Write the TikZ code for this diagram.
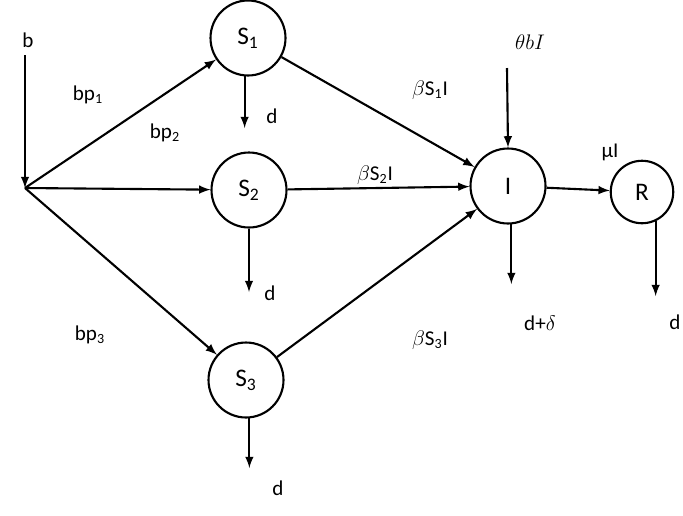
\documentclass[tikz,border=0pt]{standalone}
\usepackage{fontspec}
\setmainfont{Carlito}
\usetikzlibrary{arrows,positioning}
\begin{document}
\begin{tikzpicture}[x=0.02cm,y=-0.02cm,->,>=latex,line width=1.2pt,
    comp/.style={draw,circle,minimum size=1.5cm,font=\Large},
    lbl/.style={font=\large}]
        \useasboundingbox (0,0) rectangle (683,515);
        \node[comp] (S1) at (248,38)  {S\textsubscript{1}};
        \node[comp] (S2) at (249,190) {S\textsubscript{2}};
        \node[comp] (S3) at (246,380) {S\textsubscript{3}};
        \node[comp] (I)  at (508,186) {I};
        \node[comp,minimum size=1.25cm] (R) at (642,192) {R};
        \coordinate (top) at (25,55);
        \coordinate (src) at (25,188);
        \coordinate (th) at (507,68);
        % outflows
        \coordinate (d1) at (S1.-95 |- 0,128);
        \coordinate (d2) at (S2.south |- 0,292);
        \coordinate (d3) at (S3.-85 |- 0,468);
        \coordinate (dI) at (I.-85 |- 0,284);
        \coordinate (dR) at (R.-65 |- 0,296);
        \node[lbl] (b) at (28,40) {b};
        \node[lbl] (bp1) at (88,95) {bp\textsubscript{1}};
        \node[lbl] (bp2) at (165,133) {bp\textsubscript{2}};
        \node[lbl] (bp3) at (90,335) {bp\textsubscript{3}};
        \node[lbl] (l1) at (430,90) {$\beta$S\textsubscript{1}I};
        \node[lbl] (l2) at (375,175) {$\beta$S\textsubscript{2}I};
        \node[lbl] (l3) at (430,340) {$\beta$S\textsubscript{3}I};
        \node[lbl] (lth) at (530,42) {$\theta b I$};
        \node[lbl] (lmu) at (610,152) {μI};
        \node[lbl] at (272,116) {d};
        \node[lbl] at (270,293) {d};
        \node[lbl] at (278,488) {d};
        \node[lbl] at (540,323) {d+$\delta$};
        \node[lbl] at (675,322) {d};
        \path
        (top) edge (src)
        (src) edge (S1)
        (src) edge (S2)
        (src) edge (S3)
        (S1) edge (I)
        (S2) edge (I)
        (S3) edge (I)
        (th) edge (I.north)
        (I) edge (R)
        (S1.-95) edge (d1)
        (S2.south) edge (d2)
        (S3.-85) edge (d3)
        (I.-85) edge (dI)
        (R.-65) edge (dR)
        ;
\end{tikzpicture}
\end{document}
